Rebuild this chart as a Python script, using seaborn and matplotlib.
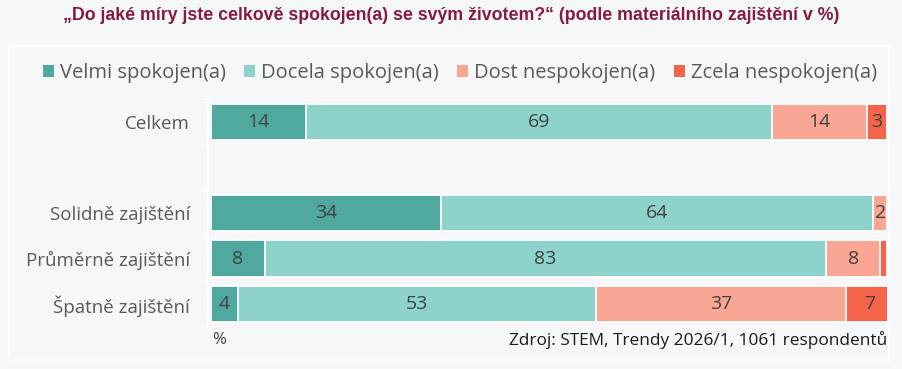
import matplotlib
matplotlib.use("Agg")
import matplotlib.pyplot as plt
from matplotlib.patches import Patch, Rectangle
import seaborn as sns
import pandas as pd
import numpy as np

# ---- data ----
categories = ["Celkem", " ", "Solidně zajištění", "Průměrně zajištění", "Špatně zajištění"]
series_names = ["Velmi spokojen(a)", "Docela spokojen(a)", "Dost nespokojen(a)", "Zcela nespokojen(a)"]
velmi = [14, None, 34, 8, 4]
docela = [69, None, 64, 83, 53]
dost = [14, None, 2, 8, 37]
zcela = [3, None, 0, 1, 7]
show_label = [[True, True, True, True], None, [True, True, True, False],
              [True, True, True, False], [True, True, True, True]]
colors = ["#4fa99f", "#8dd3cb", "#f9a694", "#f4644b"]
title = "„Do jaké míry jste celkově spokojen(a) se svým životem?“ (podle materiálního zajištění v %)"
source = "Zdroj: STEM, Trendy 2026/1, 1061 respondentů"

sns.set_theme(style="white")
plt.rcParams["font.family"] = ["Open Sans", "DejaVu Sans"]

BG = "#f6f7f9"
fig = plt.figure(figsize=(9.03, 3.69), dpi=100, facecolor=BG)
# panel frame
fig.patches.append(Rectangle((9 / 903, 1 - 360 / 369), 880 / 903, 314 / 369,
                             transform=fig.transFigure, facecolor=BG,
                             edgecolor="white", linewidth=1.5, zorder=-5))

ax = fig.add_axes([211 / 903, 1 - 327 / 369, 676 / 903, 228 / 369])
ax.set_facecolor("none")
ax.set_zorder(2)

series = [velmi, docela, dost, zcela]
rows = []
for i, cat in enumerate(categories):
    vals = [s[i] for s in series]
    if vals[0] is None:
        continue
    cum = np.cumsum(vals)
    for j, name in enumerate(series_names):
        rows.append({"cat": cat, "series": name, "cum": cum[j], "val": vals[j]})
df = pd.DataFrame(rows)

# draw cumulative bars from largest to smallest so the segments stack
for j in reversed(range(len(series_names))):
    sub = df[df["series"] == series_names[j]]
    sns.barplot(data=sub, x="cum", y="cat", order=categories, orient="h",
                color=colors[j], saturation=1, width=0.8, edgecolor="white",
                linewidth=1.3, ax=ax, errorbar=None)

# value labels
for i, cat in enumerate(categories):
    vals = [s[i] for s in series]
    if vals[0] is None:
        continue
    left = 0
    for j, v in enumerate(vals):
        if v and show_label[i][j]:
            ax.text(left + v / 2, i, f"{v}", ha="center", va="center",
                    fontsize=14, color="#404040")
        left += v

ax.set_xlim(0, 100)
ax.set_ylim(4.5, -0.5)
ax.set_xlabel("")
ax.set_ylabel("")
ax.set_xticks([])
for s in ["top", "right", "bottom"]:
    ax.spines[s].set_visible(False)
ax.spines["left"].set_color("white")
ax.spines["left"].set_linewidth(1.5)
ax.spines["left"].set_position(("outward", 2))
ax.set_yticks(np.arange(-0.5, len(categories), 1.0), minor=True)
ax.tick_params(axis="y", which="major", length=0, labelsize=13.5, labelcolor="#595959", pad=13)
ax.tick_params(axis="y", which="minor", length=4, width=1.3, color="white", left=True)

# title
fig.text(0.5, 1 - 15 / 369, title, ha="center", va="center", fontsize=12.8,
         fontweight="bold", color="#861a40",
         family=["Liberation Sans", "DejaVu Sans"])

# legend
handles = [Patch(facecolor=c, edgecolor="none") for c in colors]
fig.legend(handles, series_names, loc="center", bbox_to_anchor=(460 / 903, 1 - 73 / 369),
           ncol=4, frameon=False, fontsize=14.5, labelcolor="#595959",
           handlelength=0.55, handleheight=0.55, handletextpad=0.3, columnspacing=0.9)

fig.text(212 / 903, 1 - 340 / 369, "%", ha="left", va="center", fontsize=12, color="#404040")
fig.text(887 / 903, 1 - 340 / 369, source, ha="right", va="center", fontsize=12.4, color="#1a1a1a")

fig.savefig("out.png", dpi=100, facecolor=BG)
